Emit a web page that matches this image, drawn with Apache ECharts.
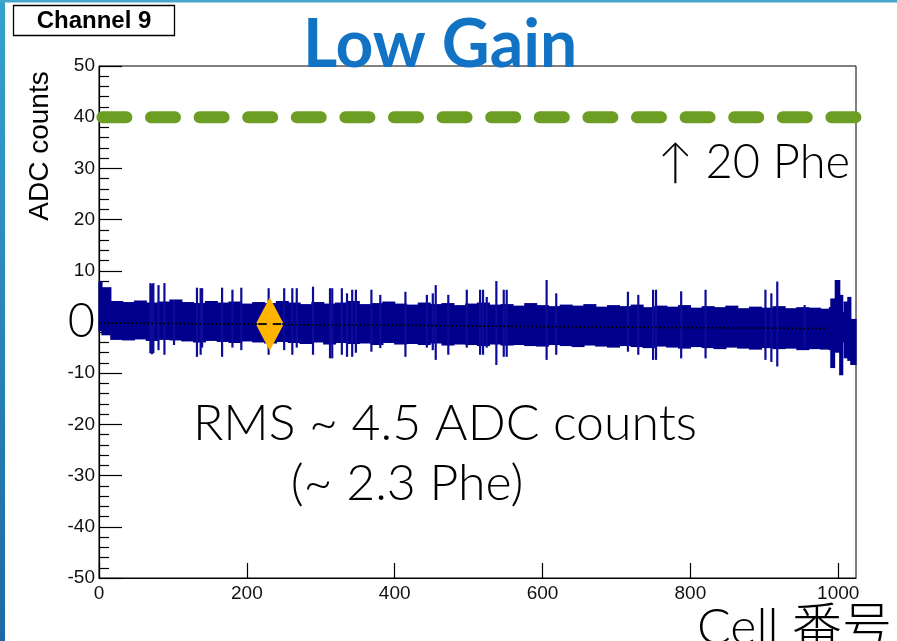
<!DOCTYPE html>
<html><head><meta charset="utf-8">
<script src="https://cdn.jsdelivr.net/npm/echarts@6/dist/echarts.min.js"></script>
<style>html,body{margin:0;padding:0;background:#fff;overflow:hidden}#c{width:897px;height:641px;}</style>
</head><body><div id="c"></div><script>
// ---- data ----
const xTickValues = [0, 200, 400, 600, 800, 1000];
const xMinorValues = [50,100,150,250,300,350,450,500,550,650,700,750,850,900,950];
const bandStart = [0,4,16,32,48,64,80,96,112,128,144,160,176,192,208,224,240,256,272,288,304,320,336,352,368,384,400,416,432,448,464,480,496,512,528,544,560,576,592,608,624,640,656,672,688,704,720,736,752,768,784,800,816,832,848,864,880,896,912,928,944,960,976,988,990,995,996,1002,1006,1008,1013,1017];
const bandHigh = [7.9,6.8,4.1,3.9,4.2,3.8,4.0,4.4,3.9,3.7,4.1,3.8,4.0,3.6,3.9,3.7,4.1,3.8,3.5,3.9,3.6,3.8,4.1,3.5,3.7,4.0,3.6,3.4,3.8,3.5,3.7,3.3,3.6,3.8,3.4,3.5,3.2,3.7,3.3,3.1,3.4,3.2,3.5,3.0,3.3,3.1,3.4,2.9,3.2,3.0,3.3,2.8,3.1,2.9,3.2,2.7,3.0,2.8,3.1,2.7,2.9,2.8,2.6,2.9,4.6,1.5,8.2,5.3,2.0,4.0,4.9,0.6];
const bandLow = [-1.8,-2.6,-3.5,-3.6,-3.4,-3.7,-3.5,-3.6,-3.8,-4.0,-3.7,-3.9,-4.1,-3.8,-4.0,-4.2,-3.9,-4.1,-4.3,-4.0,-4.4,-4.1,-4.3,-4.2,-4.5,-4.1,-4.4,-4.3,-4.5,-4.2,-4.6,-4.4,-4.5,-4.7,-4.4,-4.6,-4.5,-4.7,-4.8,-4.5,-4.7,-4.9,-4.6,-4.8,-5.0,-4.7,-4.9,-5.1,-4.8,-5.0,-5.2,-4.9,-5.1,-5.3,-5.0,-5.2,-5.4,-5.1,-5.3,-5.2,-5.5,-5.3,-5.4,-5.5,-9.0,-3.5,-6.0,-10.4,-4.0,-7.1,-7.6,-8.4];
const cellMax = 1024;
const spikeCell = [69,71,73,80,88,101,132,137,139,166,180,192,229,250,261,267,289,312,315,328,335,342,347,368,380,414,443,451,455,472,497,515,519,524,537,547,551,605,618,715,729,749,753,787,820,901,909,917,954];
const spikeHigh = [7.6,7.4,7.6,7.2,7.6,4.3,6.7,6.6,6.6,6.7,6.3,6.7,6.6,6.6,6.6,6.6,6.9,6.6,6.6,6.6,5.6,6.3,6.3,6.3,5.3,5.9,5.3,5.6,7.2,5.3,6.3,6.3,6.3,4.9,8.0,6.3,6.3,8.2,5.6,5.9,5.3,6.3,6.3,6.0,6.3,6.3,5.6,7.9,3.3];
const spikeLow = [-6.1,-6.3,-6.1,-5.5,-6.4,-4.5,-6.8,-6.4,-5.0,-6.8,-5.0,-5.5,-6.4,-5.5,-6.4,-5.0,-6.4,-7.1,-7.1,-6.4,-6.8,-6.8,-6.0,-5.8,-5.1,-6.8,-5.0,-5.5,-7.4,-6.4,-5.0,-6.4,-6.4,-5.0,-8.4,-6.8,-6.8,-7.4,-6.4,-5.8,-6.4,-7.4,-7.4,-7.1,-7.1,-7.4,-7.8,-8.7,-5.0];
const meanCell = [0,100,200,300,400,500,600,700,800,900,985];
const meanValue = [-0.2,-0.3,-0.4,-0.6,-0.6,-0.8,-0.9,-1.0,-1.1,-1.2,-1.3];
const thresholdCells = [0, 1024];
const thresholdValue = 40;
const arrowCell = 231, arrowCenter = -0.4, arrowHalf = 5.2;

const bandData = bandStart.map((s, i) => [s, i < bandStart.length - 1 ? bandStart[i + 1] : cellMax, bandLow[i], bandHigh[i]]);
const spikeData = spikeCell.map((c, i) => [c, spikeLow[i], spikeHigh[i]]);
const meanData = meanCell.map((c, i) => [c, meanValue[i]]);
const thrData = thresholdCells.map(c => [c, thresholdValue]);

const chart = echarts.init(document.getElementById('c'), null, {renderer: 'canvas'});
const axisFont = {fontFamily: 'Liberation Sans', fontSize: 19, color: '#111'};
const option = {
  animation: false,
  backgroundColor: '#fff',
  grid: {left: 99, right: 41, top: 66, bottom: 63, show: true, borderColor: '#000', borderWidth: 1, backgroundColor: 'transparent'},
  xAxis: [{
    type: 'value', min: 0, max: cellMax, position: 'bottom',
    axisLine: {onZero: false, lineStyle: {color: '#000', width: 1.2}},
    axisTick: {inside: true, length: 15, customValues: xTickValues, lineStyle: {color: '#000', width: 1.2}},
    axisLabel: Object.assign({customValues: xTickValues, margin: 6, formatter: v => String(v)}, axisFont),
    splitLine: {show: false}
  }, {
    type: 'value', min: 0, max: cellMax, position: 'bottom',
    axisLine: {show: false},
    axisTick: {inside: true, length: 7, customValues: xMinorValues, lineStyle: {color: '#000', width: 1.2}},
    axisLabel: {show: false},
    splitLine: {show: false}
  }],
  yAxis: {
    type: 'value', min: -50, max: 50, interval: 10,
    axisLine: {onZero: false, lineStyle: {color: '#000', width: 1.2}},
    axisTick: {inside: true, length: 23, lineStyle: {color: '#000', width: 1.2}},
    minorTick: {show: true, splitNumber: 5, length: 10, lineStyle: {color: '#000', width: 1.2}},
    splitLine: {show: false},
    axisLabel: Object.assign({margin: 4, formatter: v => v === 0 ? '{big|0}' : String(v),
      rich: {big: {fontFamily: 'Lato', fontWeight: 300, fontSize: 47, color: '#000'}}}, axisFont)
  },
  series: [{
    type: 'custom', name: 'band', data: bandData, encode: {x: [0, 1], y: [2, 3]}, z: 2,
    renderItem: (params, api) => {
      const p0 = api.coord([api.value(0), api.value(3)]);
      const p1 = api.coord([api.value(1), api.value(2)]);
      return {type: 'rect', shape: {x: p0[0] - 0.6, y: p0[1], width: p1[0] - p0[0] + 1.2, height: p1[1] - p0[1]}, style: {fill: '#00008c'}};
    }
  }, {
    type: 'custom', name: 'spikes', data: spikeData, encode: {x: 0, y: [1, 2]}, z: 3,
    renderItem: (params, api) => {
      const p0 = api.coord([api.value(0) + 0.5, api.value(2)]);
      const p1 = api.coord([api.value(0) + 0.5, api.value(1)]);
      return {type: 'rect', shape: {x: p0[0] - 1.1, y: p0[1], width: 2.2, height: p1[1] - p0[1]}, style: {fill: '#0c0c98'}};
    }
  }, {
    type: 'line', name: 'mean', data: meanData, symbol: 'none', z: 4,
    lineStyle: {color: '#000', width: 1.6, type: [2, 2]}
  }, {
    type: 'line', name: 'threshold', data: thrData, symbol: 'none', clip: false, z: 6,
    lineStyle: {color: '#6b9e23', width: 12, type: [24, 24.6], dashOffset: 45.2, cap: 'round'}
  }, {
    type: 'custom', name: 'arrow', data: [[arrowCell, arrowCenter, arrowHalf]], encode: {x: 0, y: 1}, z: 7,
    renderItem: (params, api) => {
      const c = api.coord([api.value(0), api.value(1)]);
      const t = api.coord([api.value(0), api.value(1) + api.value(2)]);
      const b = api.coord([api.value(0), api.value(1) - api.value(2)]);
      const w = 13.5;
      return {type: 'group', children: [
        {type: 'polygon', shape: {points: [[c[0], t[1]], [c[0] + w, c[1] - 1], [c[0] - w, c[1] - 1]]}, style: {fill: '#ffb400'}},
        {type: 'polygon', shape: {points: [[c[0], b[1]], [c[0] + w, c[1] + 1], [c[0] - w, c[1] + 1]]}, style: {fill: '#ffb400'}},
        {type: 'rect', shape: {x: c[0] - w + 1, y: c[1] - 1, width: 2 * w - 2, height: 2}, style: {fill: '#ffb400'}},
        {type: 'line', shape: {x1: c[0] - w + 2, y1: c[1], x2: c[0] - 3, y2: c[1]}, style: {stroke: '#111', lineWidth: 2}},
        {type: 'line', shape: {x1: c[0] + 3, y1: c[1], x2: c[0] + w - 2, y2: c[1]}, style: {stroke: '#111', lineWidth: 2}}
      ]};
    }
  }],
  graphic: [
    {type: 'rect', left: 0, top: 0, shape: {width: 5, height: 641}, z: 100,
      style: {fill: new echarts.graphic.LinearGradient(0, 0, 0, 1, [{offset: 0, color: '#36a2cb'}, {offset: 1, color: '#1c6aa5'}])}},
    {type: 'rect', left: 0, top: 0, shape: {width: 897, height: 2.5}, z: 100, style: {fill: '#44a8cc'}},
    {type: 'rect', shape: {x: 13.5, y: 5.5, width: 161, height: 30}, z: 50, style: {fill: '#fff', stroke: '#000', lineWidth: 1.3}},
    {type: 'text', x: 94, y: 21, z: 51, style: {text: 'Channel 9', fontFamily: 'Liberation Sans', fontWeight: 'bold', fontSize: 24, fill: '#000', align: 'center', verticalAlign: 'middle'}},
    {type: 'text', x: 440, y: 46, z: 51, style: {text: 'Low Gain', fontFamily: 'Lato', fontWeight: 'bold', fontSize: 66, fill: '#1272c4', align: 'center', verticalAlign: 'middle'}},
    {type: 'text', x: 40, y: 146, rotation: Math.PI / 2, z: 51, style: {text: 'ADC counts', fontFamily: 'Liberation Sans', fontSize: 28, fill: '#000', align: 'center', verticalAlign: 'middle'}},
    {type: 'text', x: 850, y: 163, z: 51, style: {text: '↑ 20 Phe', fontFamily: 'Lato', fontWeight: 300, fontSize: 47, fill: '#000', align: 'right', verticalAlign: 'middle'}},
    {type: 'text', x: 445, y: 424, z: 51, style: {text: 'RMS ~ 4.5 ADC counts', fontFamily: 'Lato', fontWeight: 300, fontSize: 50, fill: '#000', align: 'center', verticalAlign: 'middle'}},
    {type: 'text', x: 407, y: 484, z: 51, style: {text: '(~ 2.3 Phe)', fontFamily: 'Lato', fontWeight: 300, fontSize: 50, fill: '#000', align: 'center', verticalAlign: 'middle'}},
    {type: 'text', x: 697, y: 628, z: 51, style: {text: 'Cell 番号', fontFamily: 'Lato, "Noto Sans CJK SC"', fontWeight: 300, fontSize: 50, fill: '#000', align: 'left', verticalAlign: 'middle'}}
  ]
};
chart.setOption(option);
</script></body></html>
